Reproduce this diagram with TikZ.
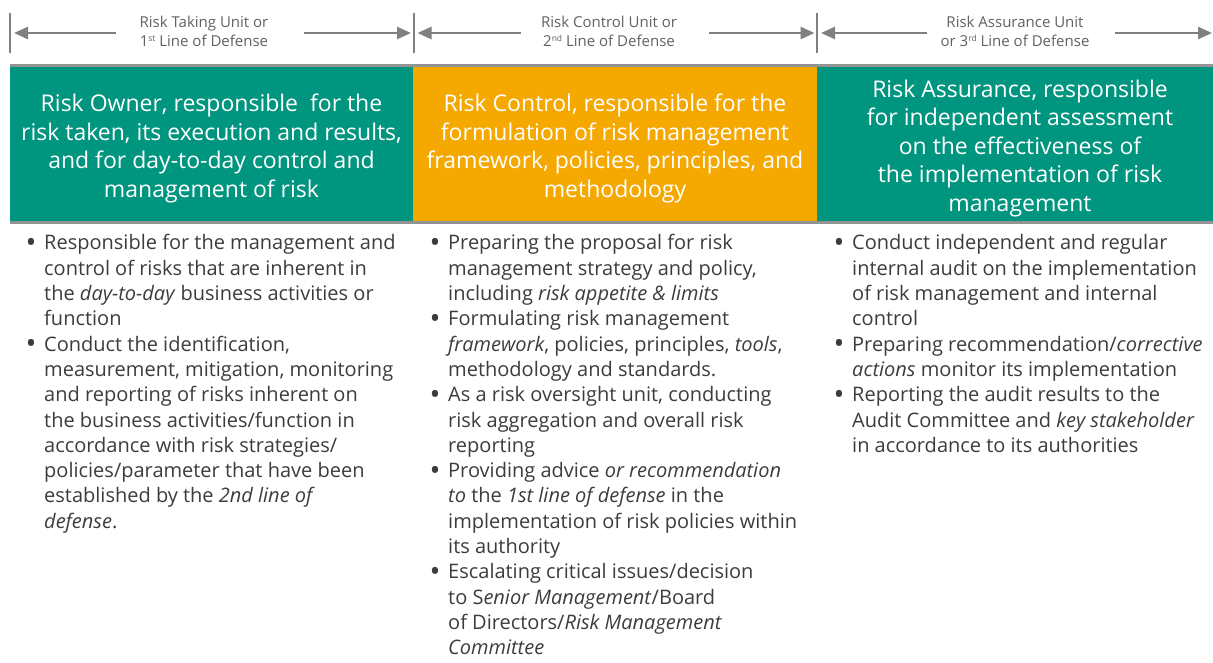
\documentclass[tikz,border=0pt]{standalone}
\usepackage{fontspec}
\setmainfont{Open Sans}
\usetikzlibrary{arrows.meta}
\definecolor{rteal}{HTML}{00957F}
\definecolor{rorange}{HTML}{F5A800}
\definecolor{rgray}{HTML}{808080}
\definecolor{rtext}{HTML}{3C3C3C}
\newcommand{\bl}{\makebox[17pt][l]{\hspace{-1.5pt}\raisebox{-2.5pt}{\fontsize{29}{20}\selectfont\textbullet}}}
\newcommand{\ind}{\hspace*{17pt}}
\newcommand{\sups}[1]{\raisebox{4.5pt}{\fontsize{8.5}{8.5}\selectfont #1}}
\newcommand{\hdrtop}{\rule{0pt}{26.5pt}}
\begin{document}
\begin{tikzpicture}[x=1pt, y=-1pt,
    bar/.style={rgray, line width=2pt},
    arr/.style={rgray, line width=2.5pt, -{Triangle[length=14pt,width=12pt]}},
    rule/.style={rgray!85, line width=3pt},
    unit/.style={text=black!62, align=center, inner sep=0pt, font=\fontsize{15}{19}\selectfont},
    hdr/.style={minimum height=156pt, inner sep=0pt, text=white, align=center, font=\fontsize{23}{28.5}\selectfont},
    body/.style={anchor=base west, inner sep=0pt, text=rtext, font=\fontsize{20}{25.3}\selectfont}]
  \useasboundingbox (0,0) rectangle (1213,663);
  \foreach \n/\xa/\xb/\cx/\lab in {1/10/413.5/204/{Risk Taking Unit or\\1\sups{st} Line of Defense},
      2/413.5/817/609/{Risk Control Unit or\\2\sups{nd} Line of Defense},
      3/817/1214.5/1015/{Risk Assurance Unit\\or 3\sups{rd} Line of Defense}} {
    \coordinate (bar\n) at (\xa,13);
    \draw[bar] (bar\n) -- ++(0,40);
    \node[unit] (unit\n) at (\cx,31) {\lab};
    \coordinate (la\n) at (\cx-88,33);
    \coordinate (lb\n) at (\xa+4,33);
    \coordinate (ra\n) at (\cx+100,33);
    \coordinate (rb\n) at (\xb-2.5,33);
    \draw[arr] (la\n) -- (lb\n);
    \draw[arr] (ra\n) -- (rb\n);
  }
  \node[hdr, fill=rteal, minimum width=403pt] (own) at (211.5,144)
    {\hdrtop Risk Owner, responsible\ \ for the\\risk taken, its execution and results,\\and for day-to-day control and\\management of risk};
  \node[hdr, fill=rorange, minimum width=404pt] (ctrl) at (615,144)
    {\hdrtop Risk Control, responsible for the\\formulation of risk management\\framework, policies, principles, and\\methodology};
  \node[hdr, fill=rteal, minimum width=406pt] (assur) at (1020,144)
    {\hdrtop Risk Assurance, responsible\\for independent assessment\\on the effectiveness of\\the implementation of risk\\management};
  \draw[rule] (own.north west) -- (assur.north east);
  \draw[rule] (own.south west) -- (assur.south east);
  \node[body] (ownlist) at (27,250) {\begin{tabular}[t]{@{}l@{}}
    \bl Responsible for the management and\\
    \ind control of risks that are inherent in\\
    \ind the \textit{day-to-day} business activities or\\
    \ind function\\
    \bl Conduct the identification,\\
    \ind measurement, mitigation, monitoring\\
    \ind and reporting of risks inherent on\\
    \ind the business activities/function in\\
    \ind accordance with risk strategies/\\
    \ind policies/parameter that have been\\
    \ind established by the \textit{2nd line of}\\
    \ind \textit{defense}.
  \end{tabular}};
  \node[body] (ctrllist) at (431,250) {\begin{tabular}[t]{@{}l@{}}
    \bl Preparing the proposal for risk\\
    \ind management strategy and policy,\\
    \ind including \textit{risk appetite \& limits}\\
    \bl Formulating risk management\\
    \ind \textit{framework}, policies, principles, \textit{tools},\\
    \ind methodology and standards.\\
    \bl As a risk oversight unit, conducting\\
    \ind risk aggregation and overall risk\\
    \ind reporting\\
    \bl Providing advice \textit{or recommendation}\\
    \ind \textit{to} the \textit{1st line of defense} in the\\
    \ind implementation of risk policies within\\
    \ind its authority\\
    \bl Escalating critical issues/decision\\
    \ind to S\textit{enior Management}/Board\\
    \ind of Directors/\textit{Risk Management}\\
    \ind \textit{Committee}
  \end{tabular}};
  \node[body] (assurlist) at (835,250) {\begin{tabular}[t]{@{}l@{}}
    \bl Conduct independent and regular\\
    \ind internal audit on the implementation\\
    \ind of risk management and internal\\
    \ind control\\
    \bl Preparing recommendation/\textit{corrective}\\
    \ind \textit{actions} monitor its implementation\\
    \bl Reporting the audit results to the\\
    \ind Audit Committee and \textit{key stakeholder}\\
    \ind in accordance to its authorities
  \end{tabular}};
\end{tikzpicture}
\end{document}
